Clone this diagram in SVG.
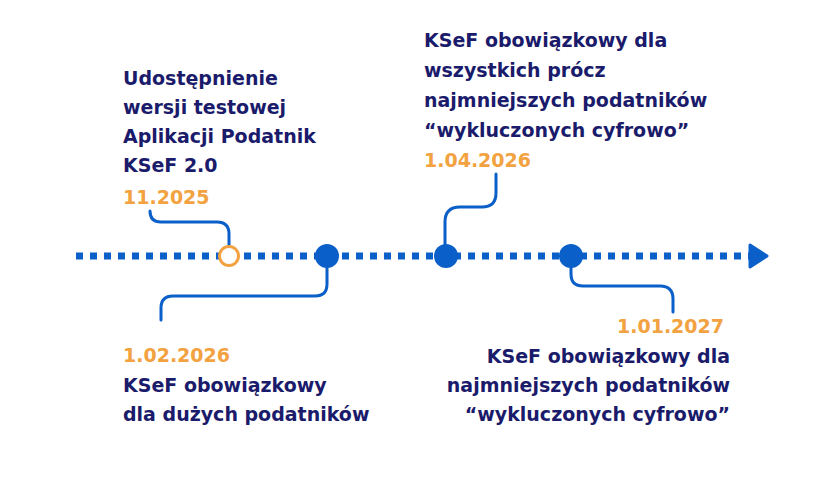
<svg xmlns="http://www.w3.org/2000/svg" width="840" height="480" viewBox="0 0 840 480">
<style>
text{font-family:"DejaVu Sans","Liberation Sans",sans-serif;font-weight:700;font-size:19px}
.t{fill:#1b1b6b}.d{fill:#f2a240}
.c{fill:none;stroke:#0a5fc8;stroke-width:3;stroke-linecap:round}
</style>
<rect width="840" height="480" fill="#fff"/>
<g id="connectors">
<line x1="76" y1="256" x2="752" y2="256" stroke="#0a5fc8" stroke-width="7" stroke-dasharray="7 7"/>
<path d="M750 245 L767 256 L750 267 Z" fill="#0a5fc8" stroke="#0a5fc8" stroke-width="3" stroke-linejoin="round"/>
<path class="c" d="M229 246 V234 Q229 222 217 222 H161 Q150 222 150 211"/>
<path class="c" d="M327 256 V284 Q327 296 315 296 H173 Q161 296 161 308 V320"/>
<path class="c" d="M445 256 V222 Q445 207 460 207 H482 Q496 207 496 193 V174"/>
<path class="c" d="M571 256 V274 Q571 286 583 286 H660 Q673 286 673 299 V312"/>
</g>
<g id="n1">
<circle cx="229" cy="256" r="9.5" fill="#fff" stroke="#f2a240" stroke-width="3"/>
<text class="t" x="123" y="85">Udostępnienie</text>
<text class="t" x="123" y="114">wersji testowej</text>
<text class="t" x="123" y="143">Aplikacji Podatnik</text>
<text class="t" x="123" y="172">KSeF 2.0</text>
<text class="d" x="123" y="204">11.2025</text>
</g>
<g id="n2">
<circle cx="327" cy="256" r="12" fill="#0a5fc8"/>
<text class="d" x="123" y="362">1.02.2026</text>
<text class="t" x="123" y="392">KSeF obowiązkowy</text>
<text class="t" x="123" y="421">dla dużych podatników</text>
</g>
<g id="n3">
<circle cx="446" cy="256" r="12" fill="#0a5fc8"/>
<text class="t" x="424" y="47">KSeF obowiązkowy dla</text>
<text class="t" x="424" y="77">wszystkich prócz</text>
<text class="t" x="424" y="107">najmniejszych podatników</text>
<text class="t" x="424" y="137">“wykluczonych cyfrowo”</text>
<text class="d" x="424" y="167">1.04.2026</text>
</g>
<g id="n4">
<circle cx="571" cy="256" r="12" fill="#0a5fc8"/>
<text class="d" x="724" y="333" text-anchor="end">1.01.2027</text>
<text class="t" x="730" y="363" text-anchor="end">KSeF obowiązkowy dla</text>
<text class="t" x="730" y="392" text-anchor="end">najmniejszych podatników</text>
<text class="t" x="730" y="421" text-anchor="end">“wykluczonych cyfrowo”</text>
</g>
</svg>
